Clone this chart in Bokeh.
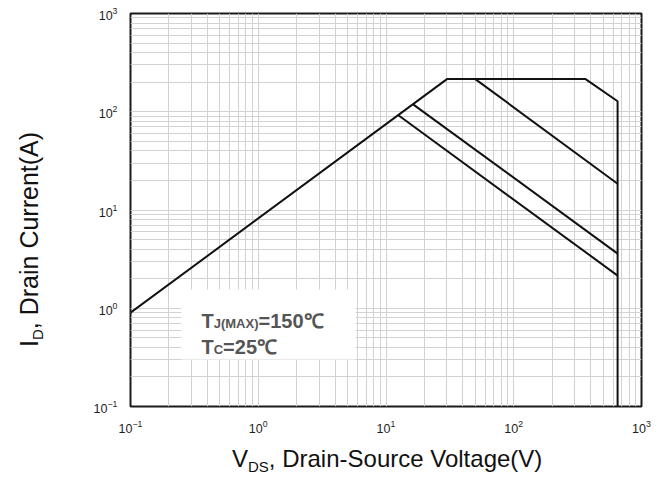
import math
from bokeh.plotting import figure
from bokeh.models import Label, FixedTicker, LogTickFormatter, Range1d, Div
from bokeh.layouts import row, column
from bokeh.embed import file_html
from bokeh.resources import INLINE

# ---------------- data ----------------
x_ticks = [0.1, 1, 10, 100, 1000]
y_ticks = [0.1, 1, 10, 100, 1000]
minor_ticks = [m * 10 ** e for e in range(-1, 3) for m in range(2, 10)]

# outer SOA envelope (Rds(on) limit, current limit, power limit, BVdss)
env_v = [0.1, 30, 365, 650, 650]
env_i = [0.9, 215, 215, 128, 0.1]
# pulse-width limited lines
p1_v = [50, 650]
p1_i = [215, 18.5]
p2_v = [16.3, 650]
p2_i = [119, 3.6]
p3_v = [12.5, 650]
p3_i = [92, 2.15]

# white note box (data extents)
box_v = [0.25, 5.8]
box_i = [0.30, 1.55]

x_title = ("V", "DS", ", Drain-Source Voltage(V)")
y_title = ("I", "D", ", Drain Current(A)")

# ---------------- layout ----------------
W, H = 667, 482
YW = 50                 # width of the y-title strip
PW = W - YW             # figure width
L, R, T = 130 - YW, 26, 13
FH = 393
PH = 445
XH = H - PH
FW = PW - L - R


def xd(px):
    return 10 ** (-1 + (px - L) / FW * 4)


def yd(py):
    return 10 ** (3 - (py - T) / FH * 4)


p = figure(width=PW, height=PH, x_axis_type="log", y_axis_type="log",
           x_range=Range1d(0.1, 1000), y_range=Range1d(0.1, 1000),
           output_backend="svg", toolbar_location=None,
           min_border_left=L, min_border_right=R, min_border_top=T,
           min_border_bottom=PH - T - FH)
p.background_fill_color = "white"
p.border_fill_color = "white"
p.outline_line_color = "#1a1a1a"
p.outline_line_width = 2

xt = FixedTicker(ticks=x_ticks, minor_ticks=minor_ticks)
yt = FixedTicker(ticks=y_ticks, minor_ticks=minor_ticks)
p.xaxis.ticker = xt
p.yaxis.ticker = yt
p.xgrid.ticker = xt
p.ygrid.ticker = yt
p.xaxis.formatter = LogTickFormatter()
p.yaxis.formatter = LogTickFormatter()

for g in (p.xgrid, p.ygrid):
    g.grid_line_color = "#d2d2d2"
    g.grid_line_width = 1
    g.minor_grid_line_color = "#d2d2d2"
    g.minor_grid_line_width = 1

for ax in (p.xaxis, p.yaxis):
    ax.axis_line_color = None
    ax.major_tick_line_color = None
    ax.minor_tick_line_color = None
    ax.major_label_text_font = "Liberation Sans"
    ax.major_label_text_font_size = "12.5px"
    ax.major_label_text_color = "#1e1e1e"
p.xaxis.major_label_standoff = 7
p.yaxis.major_label_standoff = 7

# note box
p.quad(left=[box_v[0]], right=[box_v[1]], bottom=[box_i[0]], top=[box_i[1]],
       fill_color="white", line_color=None)

for xs, ys in ((env_v, env_i), (p1_v, p1_i), (p2_v, p2_i), (p3_v, p3_i)):
    p.line(xs, ys, line_color="#111111", line_width=2)

# ---------------- note text ----------------
BOLD = {'T': 611, 'J': 556, '(': 333, 'M': 833, 'A': 722, 'X': 667, ')': 333, '=': 584,
        'C': 722}


def width(s, size):
    return sum(BOLD.get(ch, 556) for ch in s) / 1000 * size


def place(pieces, px, py, color):
    for text, size, shift in pieces:
        p.add_layout(Label(x=xd(px), y=yd(py + shift), text=text,
                           text_font="Liberation Sans", text_font_size=f"{size}px",
                           text_font_style="bold", text_color=color,
                           text_align="left", text_baseline="alphabetic"))
        px += width(text, size)


place([("T", 20, 0), ("J(MAX)", 13, 3), ("=150℃", 20, 0)], 201 - YW, 320, "#555555")
place([("T", 20, 0), ("C", 13, 3), ("=25℃", 20, 0)], 201 - YW, 346, "#555555")

# ---------------- axis titles (HTML, with real subscripts) ----------------
FONT = "font-family:'Liberation Sans',Arial,sans-serif;line-height:24px;color:#111;white-space:nowrap;"
SUB = "font-size:15px;position:relative;top:5px;"

y_html = (f'<div style="position:relative;left:17px;top:347px;width:0;height:0;'
          f'transform-origin:0 0;transform:rotate(-90deg);font-size:25px;{FONT}">'
          f'{y_title[0]}<span style="{SUB}">{y_title[1]}</span>{y_title[2]}</div>')
x_html = (f'<div style="position:relative;left:{232 - YW}px;top:2px;font-size:24px;{FONT}">'
          f'{x_title[0]}<span style="{SUB}">{x_title[1]}</span>{x_title[2]}</div>')

ydiv = Div(text=y_html, width=YW, height=H, margin=0)
xdiv = Div(text=x_html, width=PW, height=XH, margin=0)

layout = row(ydiv, column(p, xdiv, spacing=0), spacing=0)

open("out.html", "w").write(file_html(layout, INLINE))
